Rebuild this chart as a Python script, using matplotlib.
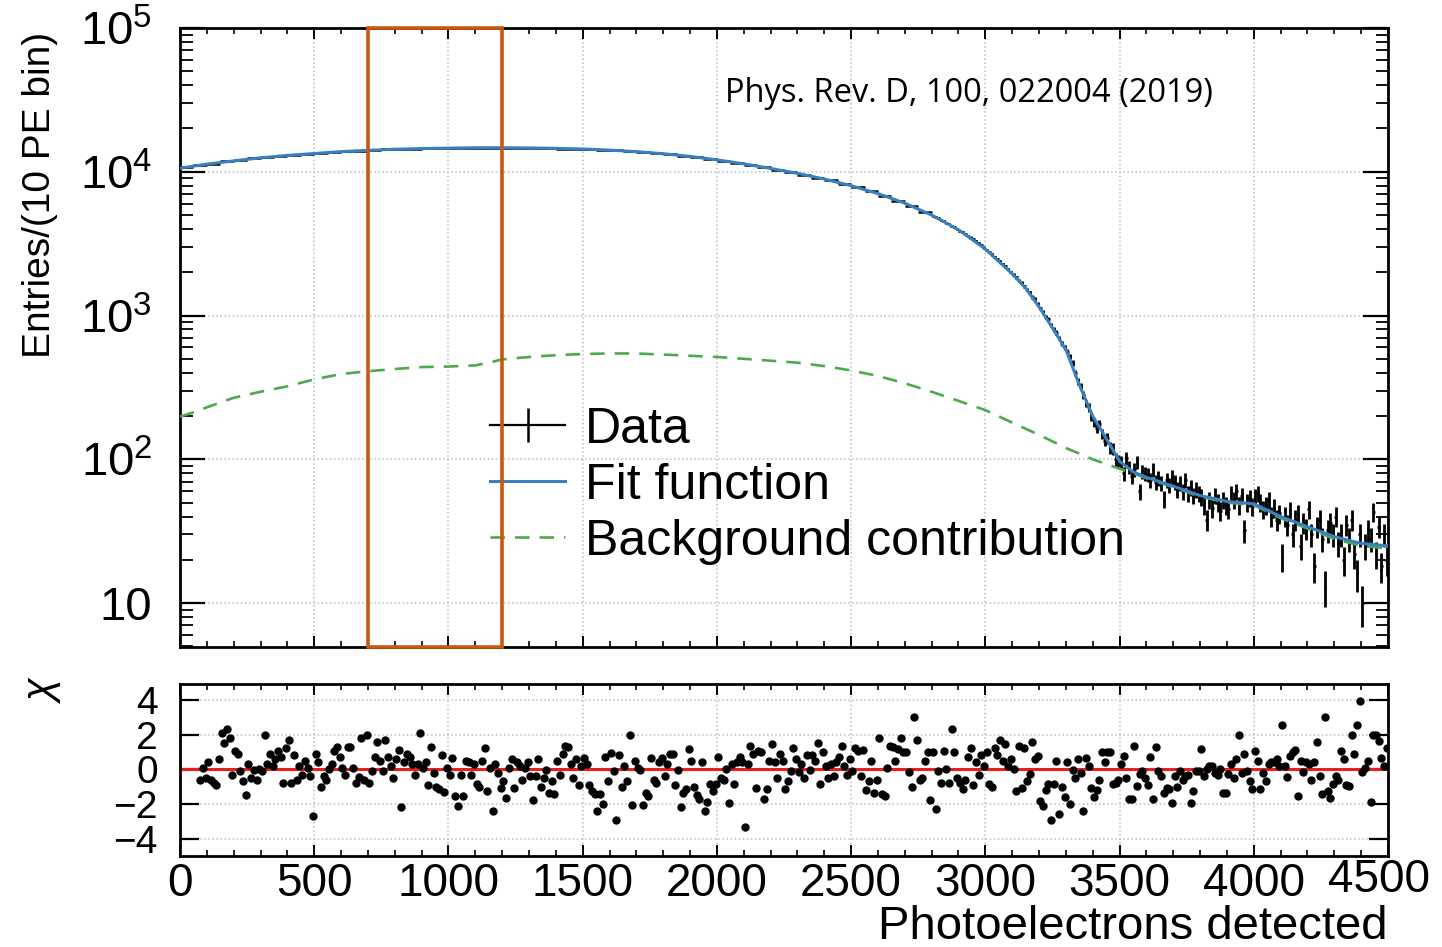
import numpy as np
import matplotlib
matplotlib.use('Agg')
import matplotlib.pyplot as plt
from matplotlib.ticker import LogLocator, MultipleLocator, NullFormatter
from matplotlib.lines import Line2D

plt.rcParams['font.family'] = ['Liberation Sans', 'DejaVu Sans']
plt.rcParams['mathtext.fontset'] = 'custom'
plt.rcParams['mathtext.rm'] = 'Liberation Sans'
plt.rcParams['mathtext.it'] = 'Liberation Sans:italic'

# fit function
fit_pe = [0, 100, 200, 300, 400, 500, 600, 700, 800, 900, 1000, 1100, 1200, 1300, 1400,
          1500, 1600, 1700, 1800, 1900, 2000, 2100, 2200, 2300, 2400, 2500, 2600, 2700,
          2800, 2900, 3000, 3100, 3150, 3200, 3250, 3300, 3350, 3400, 3450, 3500, 3550,
          3600, 3700, 3800, 3900, 4000, 4100, 4200, 4300, 4400, 4500]
fit_val = [10600, 11300, 11900, 12500, 13000, 13400, 13800, 14100, 14350, 14500, 14600,
           14700, 14700, 14650, 14550, 14400, 14150, 13800, 13350, 12800, 12100, 11350,
           10550, 9750, 8900, 8000, 7050, 6050, 5000, 3950, 2900, 1950, 1550, 1150, 820,
           580, 330, 200, 140, 97, 82, 75, 65, 56, 51, 49, 40, 34, 29, 26, 25]

# background contribution
bg_pe = [0, 60, 100, 200, 300, 400, 500, 600, 700, 800, 900, 1000, 1100, 1150, 1200, 1300,
         1400, 1500, 1600, 1700, 1800, 1900, 2000, 2100, 2200, 2300, 2400, 2500, 2600, 2700,
         2800, 2900, 3000, 3100, 3200, 3300, 3400, 3500, 3600, 3700, 3800, 3900, 4000,
         4100, 4200, 4300, 4400, 4500]
bg_val = [198, 215, 230, 268, 295, 322, 360, 392, 410, 425, 438, 442, 450, 470, 495, 515,
          530, 540, 545, 545, 535, 525, 515, 500, 485, 470, 445, 415, 380, 338, 295, 255,
          220, 180, 148, 120, 100, 86, 74, 64, 55, 50, 48, 39, 33, 28, 25, 24]

# data, 50 PE wide points below 2800 PE (hidden under the fit), 10 PE bins above
data_coarse = [10750, 11150, 11400, 11800, 12000, 12400, 12600, 12900, 13100, 13350,
               13500, 13700, 13900, 14000, 14200, 14300, 14400, 14450, 14550, 14600,
               14650, 14650, 14750, 14700, 14700, 14650, 14650, 14550, 14500, 14450,
               14350, 14200, 14100, 13900, 13700, 13450, 13250, 12950, 12650, 12300,
               11900, 11550, 11150, 10750, 10350, 9950, 9550, 9100, 8700, 8200,
               7800, 7300, 6800, 6300, 5800, 5250]
data_fine = [4950, 4830, 4760, 4620, 4540, 4420, 4330, 4210, 4120, 4000,
             3900, 3800, 3720, 3600, 3490, 3420, 3300, 3200, 3080, 2970,
             2850, 2780, 2660, 2560, 2480, 2390, 2280, 2200, 2110, 2010,
             1920, 1850, 1740, 1690, 1600, 1510, 1450, 1350, 1300, 1200,
             1120, 1060, 980, 940, 860, 800, 760, 700, 640, 600,
             560, 520, 470, 400, 350, 320, 280, 245, 230, 200,
             180, 165, 175, 150, 135, 140, 120, 118, 100, 98,
             95, 80, 102, 88, 76, 85, 95, 60, 82, 80,
             78, 72, 85, 70, 74, 68, 53, 72, 66, 75,
             70, 62, 68, 60, 72, 58, 64, 56, 62, 58,
             55, 48, 38, 52, 46, 56, 50, 44, 52, 48,
             45, 58, 52, 60, 48, 56, 32, 50, 54, 47,
             55, 58, 50, 45, 48, 52, 40, 46, 38, 42,
             21, 40, 35, 44, 30, 38, 42, 25, 36, 33,
             45, 30, 18, 34, 38, 28, 13, 32, 36, 30,
             40, 26, 30, 20, 35, 28, 38, 22, 16, 30,
             10, 25, 32, 28, 43, 22, 34, 18, 30, 20]

# residuals, one per 10 PE bin from 75 PE
chi = [-0.64, 0.1, -0.5, 0.4, -0.6, -0.8, -0.9, 0.6, 2.1, 1.5,
       2.3, 1.8, -0.3, 1.06, 0.9, -0.1, -0.7, -1.5, 0.3, -0.5,
       -0.05, -0.6, 0.0, -0.1, 2.0, 0.3, 0.9, 0.2, 0.6, 1.06,
       0.7, -0.8, 1.25, 1.7, -0.8, 0.8, -0.6, 0.2, -0.3, 0.5,
       0.1, -0.4, -2.7,
       0.9, 0.4, -1.0, -0.4, -0.6, 0.0, 0.3, 1.06, 1.3, 0.7,
       0.05, -0.3, 1.3, 1.3, 0.1, -0.8, -0.45, 1.8, -0.64, 2.0,
       -0.8, -0.1, 0.7, 1.6, 0.5, -0.1, 1.7, 0.7, 0.2, -0.5,
       0.6, 1.1, -2.2, 0.4, 0.9, 0.7, 0.3, -0.3, 0.3, 2.07,
       0.1, 0.4, -0.9, 1.3, -0.2, -1.0, -1.15, 0.8, -1.3, 0.05,
       -0.3, 0.65, -1.55, -2.1, -0.3, -1.55, 0.5, 0.4, -0.3, 0.3,
       -0.87, -1.0, 0.5, 1.25, -1.25, 0.1, -2.4, 0.3, -0.2, -1.05,
       -0.7, -1.65, 0.1, 0.6, -1.05, 0.45, 0.2, -0.6, 0.1, 0.4,
       -0.4, -1.75, -0.4, 0.6, -1.0, -0.5, -0.05, -1.35, -0.7, -1.4,
       0.5, -0.3, 0.9, 1.35, 1.3, 0.3, -0.5, 0.6, -0.9, 0.2,
       0.65, 0.3, -0.9, -1.25, -1.4, -2.4, -1.45, -2.0, 0.7, -0.7,
       0.95, -0.1, -2.9, 0.85, -1.0, 0.2, -0.7, 2.0, -2.07, 0.5,
       0.1, -0.05, -2.07, -1.35, -1.55, 0.65, -0.6, -0.8, 0.45, 0.65,
       -0.4, 0.3, 0.9, 0.9, -0.9, -0.05, -2.2, -1.35, -1.15, 1.15,
       0.5, -1.0, -1.5, -1.7, 0.45, -2.4, -1.9, -0.87, -1.25, -0.87,
       0.7, -0.5, -0.64, 0.0, -1.95, 0.3, -0.87, 0.4, 0.7, 0.4,
       -3.35, 0.3, 1.35, 0.9, -1.05, 1.06, 0.97, -1.7, -1.15, 0.5,
       1.45, 0.45, -0.5, 0.9, 0.5, -1.15, -0.7, -0.1, 1.25, 0.6,
       -0.15, 0.3, -0.5, 0.85, -0.05, 0.85, 0.5, 1.5, -0.85, 0.97,
       0.2, -0.5, 0.3, -0.4, 0.4, 0.7, 1.35, 0.2, -0.3, 0.6,
       -0.1, 1.25, 1.06, -0.4, 1.1, -1.2, -0.7, 0.5, -1.35, -0.6,
       1.8, -1.45, -1.55, 0.1, 1.35, 1.3, 0.5, 1.15, 1.8, 0.97,
       0.97, -0.15, -1.0, 3.0, 1.7, -0.64, -0.5, 0.5, 1.0, -1.75,
       0.97, -2.3, -0.1, -0.8, 1.06, 0.0, -0.8, 2.3, 1.0, -0.5,
       -0.8, -1.15, -0.64, 0.7, 1.25, -0.9, 0.4, -0.3, 0.8, 0.2,
       0.97, -0.87, -1.0, 1.25, 0.85, 1.7, 0.5, 1.45, 0.2, 0.6,
       0.0, -1.25, 1.35, -1.05, 1.25, -0.7, -0.25, 1.6, 0.6, 0.77,
       -1.85, -2.1, -1.2, -0.87, -2.95, -0.87, 0.5, -2.6, -1.0, -1.6,
       0.45, -2.0, -0.05, -0.5, 0.6, -0.2, -2.4, 0.65, 0.2, -1.05,
       -1.6, -1.2, -0.64, 0.97, 0.45, 0.97, 0.97, -0.87, -0.8, -0.6,
       0.3, 0.77, -0.5, -1.7, -1.7, 1.35, -0.97, -0.25, -0.1, -0.5,
       -0.9, 0.7, -1.7, 1.3, -0.1, -0.4, -1.35, -1.05, -1.15, -1.95,
       -0.4, -1.0, -0.1, -0.64, -0.4, -0.3, -1.95, -1.25, -0.1, -0.1,
       1.15, -0.4, 0.0, 0.2, 0.2, -0.2, -0.3, 0.0, -1.35, -1.35,
       -0.25, 0.3, -0.5, 0.6, 2.0, -0.2, 0.9, -0.1, -0.7, -1.15,
       1.06, 0.5, -1.15, -0.2, -0.7, 0.3, 0.45, 0.4, 0.6, 0.2,
       2.55, 0.2, -0.45, 0.77, 0.97, 1.1, -1.55, 0.5, -0.15, 0.45,
       0.3, -0.6, 0.4, 1.6, -0.4, -1.45, 3.0, -1.25, -1.65, -0.87,
       -0.4, -0.64, 1.06, 0.6, -0.9, -0.97, 2.0, 0.9, 2.55, 3.95,
       -0.15, 0.1, 0.5, -1.9, 2.0, 2.0, 1.65, 0.65, 0.2, 1.2]

xticks = [0, 500, 1000, 1500, 2000, 2500, 3000, 3500, 4000, 4500]
yticks_top = [10, 100, 1000, 10000, 100000]
ytick_top_labels = ['10', r'$10^2$', r'$10^3$', r'$10^4$', r'$10^5$']
yticks_chi = [-4, -2, 0, 2, 4]

coarse_pe = np.arange(25, 2800, 50)
fine_pe = np.arange(2805, 4500, 10)
chi_pe = np.arange(75, 4500, 10)

W, H = 1442, 947
fig = plt.figure(figsize=(W / 100, H / 100), dpi=100)

ax1 = fig.add_axes([180 / W, 1 - 647 / H, 1208 / W, 619 / H])
ax2 = fig.add_axes([180 / W, 1 - 856 / H, 1208 / W, 172 / H])

blue = '#3a80c0'
green = '#4caa4c'
dash = (0, (5.5, 3.8))

# data
ax1.errorbar(coarse_pe, data_coarse, xerr=25, yerr=np.sqrt(data_coarse), fmt='none',
             ecolor='black', elinewidth=1.8, zorder=2)
ax1.errorbar(fine_pe, data_fine, xerr=5, yerr=np.sqrt(data_fine), fmt='none',
             ecolor='black', elinewidth=2.0, zorder=2)
ax1.plot(bg_pe, bg_val, color=green, lw=1.9, linestyle=dash, zorder=3)
ax1.plot(fit_pe, fit_val, color=blue, lw=2.2, zorder=4)

ax1.set_yscale('log')
ax1.set_xlim(0, 4500)
ax1.set_ylim(4.95, 1e5)
ax1.set_xticks(xticks)
ax1.xaxis.set_minor_locator(MultipleLocator(100))
ax1.set_yticks(yticks_top, labels=ytick_top_labels)
ax1.yaxis.set_minor_locator(LogLocator(base=10, subs=range(2, 10)))
ax1.yaxis.set_minor_formatter(NullFormatter())
ax1.tick_params(axis='x', which='both', direction='in', top=True, bottom=True, labelbottom=False)
ax1.tick_params(axis='x', which='major', length=8, width=1.4)
ax1.tick_params(axis='x', which='minor', length=4, width=1.2)
ax1.tick_params(axis='y', which='both', direction='in', left=True, right=True, labelsize=34, pad=20)
ax1.tick_params(axis='y', which='major', length=18, width=1.6)
ax1.tick_params(axis='y', which='minor', length=9, width=1.3)
ax1.grid(True, which='major', linestyle=':', color='#bdbdbd', lw=1.1)
for s in ax1.spines.values():
    s.set_linewidth(2.0)

# highlighted window
ax1.axvspan(700, 1200, fill=False, edgecolor='#c8570f', lw=2.6, zorder=6, clip_on=False)

data_handle = (Line2D([], [], color='black', lw=1.6),
               Line2D([], [], color='black', marker='|', ms=25, mew=1.8, linestyle='none'))
handles = [data_handle,
           Line2D([], [], color=blue, lw=2.2),
           Line2D([], [], color=green, lw=1.9, linestyle=dash)]
labels = ['Data', 'Fit function', 'Background contribution']
ax1.legend(handles, labels, loc='upper left', bbox_to_anchor=(490 / W, 1 - 407 / H),
           bbox_transform=fig.transFigure, frameon=False, fontsize=36, borderpad=0,
           borderaxespad=0, handlelength=1.5, handletextpad=0.4, labelspacing=0.2)

fig.text(725 / W, 1 - 93 / H, 'Phys. Rev. D, 100, 022004 (2019)', fontsize=23.5,
         family=['Open Sans', 'DejaVu Sans'], va='center', ha='left')

# residual panel
ax2.plot(chi_pe, chi, 'o', color='black', ms=5, zorder=3)
ax2.axhline(0, color='#e8201a', lw=2.2, zorder=2)
ax2.set_xlim(0, 4500)
ax2.set_ylim(-5.0, 4.92)
ax2.set_yticks(yticks_chi)
ax2.set_xticks(xticks, labels=[str(v) for v in xticks[:-1]] + [''])
ax2.xaxis.set_minor_locator(MultipleLocator(100))
ax2.tick_params(axis='x', which='both', direction='in', top=True, bottom=True, labelsize=33, pad=4)
ax2.tick_params(axis='x', which='major', length=8, width=1.4)
ax2.tick_params(axis='x', which='minor', length=4, width=1.2)
ax2.tick_params(axis='y', which='major', direction='in', left=True, right=True, length=14,
                width=1.6, labelsize=28, pad=16)
ax2.grid(True, which='major', linestyle=':', color='#bdbdbd', lw=1.1)
for s in ax2.spines.values():
    s.set_linewidth(2.0)

# last tick label sits a little left of its tick, as in ROOT
fig.text(1379 / W, 1 - 880 / H, str(xticks[-1]), fontsize=33, ha='center', va='center')

fig.text(1388 / W, 1 - 927 / H, 'Photoelectrons detected', fontsize=34, ha='right', va='center')
fig.text(40 / W, 1 - 195 / H, 'Entries/(10 PE bin)', fontsize=28, rotation=90,
         ha='center', va='center')
fig.text(42 / W, 1 - 690 / H, r'$\chi$', fontsize=30, rotation=90, ha='center', va='center',
         family=['DejaVu Sans'])

fig.savefig('out.png', dpi=100)
